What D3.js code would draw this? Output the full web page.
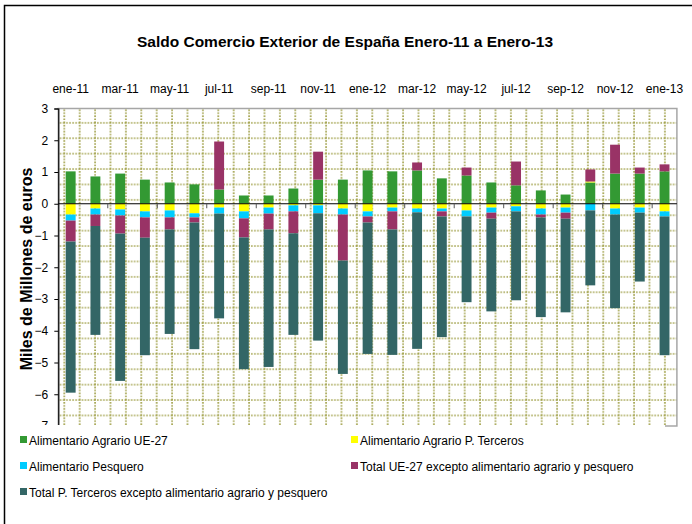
<!DOCTYPE html>
<html>
<head>
<meta charset="utf-8">
<script src="https://cdn.jsdelivr.net/npm/d3@7"></script>
<style>
  body { margin: 0; background: #fff; }
  text { font-family: Arial, "Liberation Sans", sans-serif; fill: #000; }
</style>
</head>
<body>
<div id="wrapper"></div>
<script>
// months ene-11 .. ene-13
const months = ['ene-11','feb-11','mar-11','abr-11','may-11','jun-11','jul-11','ago-11','sep-11','oct-11','nov-11','dic-11',
  'ene-12','feb-12','mar-12','abr-12','may-12','jun-12','jul-12','ago-12','sep-12','oct-12','nov-12','dic-12','ene-13'];

// miles de millones de euros
const agrarioUE = [1.02, 0.86, 0.95, 0.76, 0.67, 0.61, 0.45, 0.26, 0.26, 0.48, 0.76, 0.76,
  1.05, 1.02, 1.05, 0.80, 0.89, 0.67, 0.58, 0.42, 0.29, 0.67, 0.95, 0.95, 1.02];
const agrarioTerceros = [-0.34, -0.15, -0.18, -0.24, -0.21, -0.30, -0.12, -0.24, -0.12, -0.05, -0.05, -0.15,
  -0.24, -0.12, -0.15, -0.15, -0.21, -0.12, -0.08, -0.15, -0.12, 0.03, -0.15, -0.12, -0.24];
const pesquero = [-0.19, -0.19, -0.19, -0.19, -0.22, -0.13, -0.19, -0.22, -0.19, -0.19, -0.25, -0.19,
  -0.16, -0.12, -0.12, -0.09, -0.19, -0.16, -0.16, -0.19, -0.16, -0.21, -0.19, -0.16, -0.16];
const restoUE = [-0.66, -0.36, -0.57, -0.64, -0.38, -0.16, 1.51, -0.60, -0.50, -0.69, 0.88, -1.45,
  -0.19, -0.57, 0.25, -0.16, 0.25, -0.19, 0.75, -0.09, -0.19, 0.38, 0.91, 0.19, 0.22];
const restoTerceros = [-4.76, -3.43, -4.64, -3.70, -3.29, -3.99, -3.30, -4.15, -4.33, -3.20, -4.01, -3.57,
  -4.14, -3.95, -4.30, -3.80, -2.70, -2.92, -2.80, -3.14, -2.95, -2.36, -2.95, -2.17, -4.37];

const seriesNames = ['Alimentario Agrario UE-27', 'Alimentario Agrario P. Terceros', 'Alimentario Pesquero',
  'Total UE-27 excepto alimentario agrario y pesquero', 'Total P. Terceros excepto alimentario agrario y pesquero'];
const seriesColors = ['#339933', '#ffff00', '#00ccff', '#993366', '#336666'];
const yTicks = [3, 2, 1, 0, -1, -2, -3, -4, -5, -6, -7];

const seriesValues = [agrarioUE, agrarioTerceros, pesquero, restoUE, restoTerceros];
const keys = seriesNames;
const table = months.map((m, i) => {
  const row = { month: m };
  keys.forEach((k, j) => row[k] = seriesValues[j][i]);
  return row;
});

const width = 692, height = 524;
const plot = { left: 58.3, right: 676.9, top: 108.5, bottom: 426 };

const svg = d3.select('#wrapper').append('svg')
    .attr('width', width)
    .attr('height', height);

// outer chart border (runs off the right/bottom edge)
svg.append('rect')
    .attr('x', 4.5).attr('y', 5.5)
    .attr('width', 720).attr('height', 560)
    .attr('fill', '#fff')
    .attr('stroke', '#000')
    .attr('stroke-width', 1.5);

const xScale = d3.scaleBand()
    .domain(months)
    .range([plot.left, plot.right])
    .paddingInner(0.6)
    .paddingOuter(0.3);

const yScale = d3.scaleLinear()
    .domain([-7, 3])
    .range([plot.bottom, plot.top]);

// dotted pattern fill of the plot area
const step = 15.4;
const pattern = svg.append('defs').append('pattern')
    .attr('id', 'grid')
    .attr('patternUnits', 'userSpaceOnUse')
    .attr('x', 64.3 - 1).attr('y', 107.5 - 1)
    .attr('width', step).attr('height', step);
pattern.append('rect').attr('width', step).attr('height', step).attr('fill', '#fff');
pattern.append('line')
    .attr('x1', 0).attr('x2', step).attr('y1', 1).attr('y2', 1)
    .attr('stroke', '#9c9c40').attr('stroke-width', 1.6).attr('stroke-dasharray', '1.5 1.5');
pattern.append('line')
    .attr('x1', 1).attr('x2', 1).attr('y1', 0).attr('y2', step)
    .attr('stroke', '#9c9c40').attr('stroke-width', 1.6).attr('stroke-dasharray', '1.5 1.5');

svg.append('rect')
    .attr('x', plot.left).attr('y', plot.top)
    .attr('width', plot.right - plot.left)
    .attr('height', plot.bottom - plot.top)
    .attr('fill', 'url(#grid)')
    .attr('stroke', '#a6a6a6')
    .attr('stroke-width', 1.5);

// stacked bars
const stack = d3.stack()
    .keys(keys)
    .offset(d3.stackOffsetDiverging);
const stacked = stack(table);

svg.append('g')
  .selectAll('g')
  .data(stacked)
  .join('g')
    .attr('fill', (d, i) => seriesColors[i])
  .selectAll('rect')
  .data(d => d)
  .join('rect')
    .attr('x', d => xScale(d.data.month))
    .attr('width', xScale.bandwidth())
    .attr('y', d => yScale(Math.max(d[0], d[1])))
    .attr('height', d => Math.abs(yScale(d[0]) - yScale(d[1])));

// zero axis with ticks every two months
const zeroY = yScale(0);
svg.append('line')
    .attr('x1', plot.left).attr('x2', plot.right)
    .attr('y1', zeroY).attr('y2', zeroY)
    .attr('stroke', '#000').attr('stroke-width', 1.2);
svg.append('g')
  .selectAll('line')
  .data(months.filter((d, i) => i % 2 === 0 && i > 0))
  .join('line')
    .attr('x1', d => xScale(d) - xScale.step() * xScale.paddingInner() / 2)
    .attr('x2', d => xScale(d) - xScale.step() * xScale.paddingInner() / 2)
    .attr('y1', zeroY).attr('y2', zeroY + 4.5)
    .attr('stroke', '#555').attr('stroke-width', 1);

// top month labels
svg.append('g')
  .selectAll('text')
  .data(months.filter((d, i) => i % 2 === 0))
  .join('text')
    .attr('x', d => xScale(d) + xScale.bandwidth() / 2)
    .attr('y', 93)
    .attr('text-anchor', 'middle')
    .style('font-size', '12px')
    .text(d => d);

// y axis
const yAxis = svg.append('g')
    .attr('transform', `translate(${plot.left},0)`)
    .call(d3.axisLeft(yScale).tickValues(yTicks).tickSize(4).tickPadding(6).tickFormat(d3.format('d')));
yAxis.select('.domain').attr('stroke', '#000').attr('stroke-width', 1.2);
yAxis.selectAll('.tick line').attr('stroke', '#000');
yAxis.selectAll('text')
    .style('font-size', '12px')
    .style('font-family', 'Arial, "Liberation Sans", sans-serif');

svg.append('text')
    .attr('transform', `translate(32,269) rotate(-90)`)
    .attr('text-anchor', 'middle')
    .style('font-size', '16px')
    .style('font-weight', 'bold')
    .text('Miles de Millones de euros');

// title
svg.append('text')
    .attr('x', 345)
    .attr('y', 47)
    .attr('text-anchor', 'middle')
    .style('font-size', '15.5px')
    .style('font-weight', 'bold')
    .text('Saldo Comercio Exterior de España Enero-11 a Enero-13');

// legend (white box overlaps the bottom of the plot)
const legend = svg.append('g');
legend.append('rect')
    .attr('x', 8).attr('y', 425)
    .attr('width', 657).attr('height', 92)
    .attr('fill', '#fff');

const legendPos = [[20, 440], [351, 440], [20, 466], [351, 466], [20, 492]];
const items = legend.selectAll('g.item')
  .data(seriesNames)
  .join('g')
    .attr('class', 'item')
    .attr('transform', (d, i) => `translate(${legendPos[i][0]},${legendPos[i][1]})`);
items.append('rect')
    .attr('x', 0).attr('y', -4)
    .attr('width', 7).attr('height', 7)
    .attr('fill', (d, i) => seriesColors[i]);
items.append('text')
    .attr('x', 9).attr('y', 4.5)
    .style('font-size', '12px')
    .text(d => d);
</script>
</body>
</html>
